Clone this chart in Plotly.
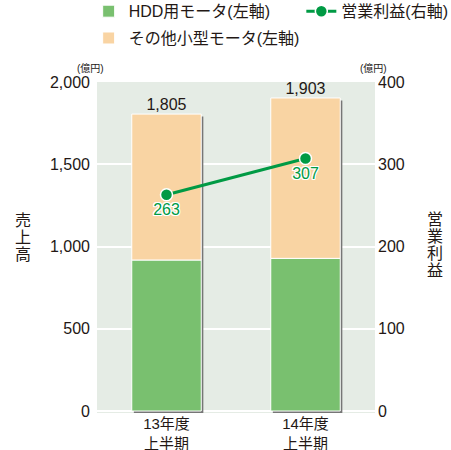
import plotly.graph_objects as go

categories = ["13年度<br>上半期", "14年度<br>上半期"]
hdd_motor = [918, 928]
other_motor = [887, 975]
totals = [1805, 1903]
op_profit = [263, 307]
left_ticks = [0, 500, 1000, 1500, 2000]
left_tick_text = ["0", "500", "1,000", "1,500", "2,000"]
right_ticks = [0, 100, 200, 300, 400]
left_title = "売上高"
right_title = "営業利益"
unit_label = "(億円)"

GREEN = "#79C06F"
ORANGE = "#F9D4A3"
LINE = "#009A44"
BG = "#E5ECE5"
TXT = "#231815"
FONT = "Liberation Sans, Noto Sans CJK JP, sans-serif"

fig = go.Figure()

# drop shadow behind the bars
fig.add_trace(go.Bar(
    x=categories, y=totals, base=[-15, -15], width=0.5, offset=-0.235,
    marker=dict(color="#767676", line=dict(width=0)),
    showlegend=False, hoverinfo="skip"))

fig.add_trace(go.Bar(
    x=categories, y=hdd_motor, width=0.5, offset=-0.25,
    name="HDD用モータ(左軸)", legend="legend", legendgroup="a",
    marker=dict(color=GREEN, line=dict(color="white", width=1))))

fig.add_trace(go.Bar(
    x=categories, y=other_motor, base=hdd_motor, width=0.5, offset=-0.25,
    name="その他小型モータ(左軸)", legend="legend", legendgroup="b",
    marker=dict(color=ORANGE, line=dict(color="white", width=1))))

fig.add_trace(go.Scatter(
    x=categories, y=totals, mode="text", text=[f"{v:,}" for v in totals],
    textposition="top center", textfont=dict(size=16, color=TXT, family=FONT),
    showlegend=False, hoverinfo="skip"))

fig.add_trace(go.Scatter(
    x=categories, y=op_profit, yaxis="y2", mode="lines+markers+text",
    name="営業利益(右軸)", legend="legend2",
    line=dict(color=LINE, width=3),
    marker=dict(size=12, color=LINE, line=dict(color="white", width=1.5)),
    text=[str(v) for v in op_profit], textposition="bottom center",
    textfont=dict(size=16, color=LINE, family=FONT,
                  shadow="1px 1px 0 white, -1px -1px 0 white, 1px -1px 0 white, -1px 1px 0 white, 0 1px 0 white, 0 -1px 0 white, 1px 0 0 white, -1px 0 0 white")))

fig.update_layout(
    width=451, height=450,
    margin=dict(l=97, r=76, t=82, b=37, autoexpand=False),
    paper_bgcolor="white", plot_bgcolor=BG,
    barmode="overlay",
    font=dict(family=FONT, size=15, color=TXT),
    xaxis=dict(type="category", range=[-0.5, 1.5], showgrid=False, zeroline=False,
               showline=False, ticks="", tickfont=dict(size=15, color=TXT),
               automargin=False),
    yaxis=dict(range=[-12, 2000], tickvals=left_ticks, ticktext=left_tick_text,
               showgrid=True, gridcolor="white", gridwidth=1.5, zeroline=False,
               showline=False, ticks="", ticklabelstandoff=6, automargin=False,
               tickfont=dict(size=16, color=TXT)),
    yaxis2=dict(range=[-2.4, 400], tickvals=right_ticks, overlaying="y", side="right",
                showgrid=False, zeroline=False, showline=False, ticks="",
                ticklabelstandoff=2, automargin=False, tickfont=dict(size=16, color=TXT)),
    legend=dict(x=-0.03, y=1.265, xanchor="left", yanchor="top",
                orientation="v", traceorder="grouped", tracegroupgap=3,
                font=dict(size=16, color=TXT), bgcolor="rgba(0,0,0,0)"),
    legend2=dict(x=0.735, y=1.265, xanchor="left", yanchor="top",
                 orientation="v", font=dict(size=16, color=TXT),
                 bgcolor="rgba(0,0,0,0)", itemwidth=30),
    showlegend=True,
)

# vertical (stacked) axis titles, one character per line
def stacked_title(text, x_px, y_center_px, step):
    n = len(text)
    for i, ch in enumerate(text):
        y_px = y_center_px + (i - (n - 1) / 2) * step
        fig.add_annotation(text=ch, xref="paper", yref="paper",
                           x=(x_px - 97) / 278, y=(413 - y_px) / 331,
                           showarrow=False, xanchor="center", yanchor="middle",
                           font=dict(family=FONT, size=16, color=TXT))

stacked_title(left_title, 22.5, 237.5, 16.5)
stacked_title(right_title, 435, 245, 17)

fig.add_annotation(text=unit_label, xref="paper", yref="paper", x=-0.08, y=1.0,
                   yanchor="bottom", yshift=6, showarrow=False,
                   font=dict(family=FONT, size=10, color=TXT))
fig.add_annotation(text=unit_label, xref="paper", yref="paper", x=1.05, y=1.0,
                   yanchor="bottom", yshift=6, showarrow=False,
                   font=dict(family=FONT, size=10, color=TXT))

fig.write_html("out.html")
